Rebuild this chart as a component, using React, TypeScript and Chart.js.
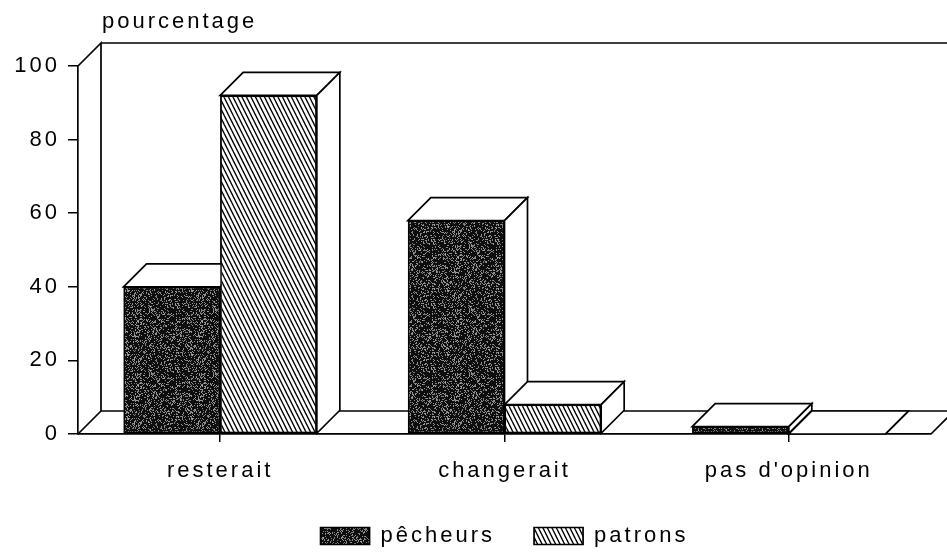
import React, { useEffect, useRef } from "react";
import { Chart, registerables } from "chart.js";
Chart.register(...registerables);

const categories = ["resterait", "changerait", "pas d'opinion"];
const seriesNames = ["pêcheurs", "patrons"];
const pecheurs = [40, 58, 2];
const patrons = [92, 8, 0];
const yTicks = [0, 20, 40, 60, 80, 100];
const yTitle = "pourcentage";

const FONT = "'Liberation Sans', Arial, Helvetica, sans-serif";
const FS = 22;
const LS = "3px";
const DX = 23;
const DY = -23;
const LW = 1.7;

function makeStipple(): CanvasPattern | string {
  const c = document.createElement("canvas");
  c.width = 64;
  c.height = 64;
  const g = c.getContext("2d");
  if (!g) return "#333";
  const img = g.createImageData(64, 64);
  let s = 987654321;
  for (let i = 0; i < 64 * 64; i++) {
    s = (s * 1103515245 + 12345) & 0x7fffffff;
    const r = (s >> 16) & 255;
    const v = r < 66 ? 120 + (r % 50) : 14;
    img.data[i * 4] = v;
    img.data[i * 4 + 1] = v;
    img.data[i * 4 + 2] = v;
    img.data[i * 4 + 3] = 255;
  }
  g.putImageData(img, 0, 0);
  return g.createPattern(c, "repeat") || "#333";
}

function makeHatch(): CanvasPattern | string {
  const c = document.createElement("canvas");
  c.width = 9;
  c.height = 18;
  const g = c.getContext("2d");
  if (!g) return "#999";
  g.fillStyle = "#fff";
  g.fillRect(0, 0, 9, 18);
  g.strokeStyle = "#000";
  g.lineWidth = 1.4;
  for (let k = -4; k <= 3; k++) {
    g.beginPath();
    g.moveTo(k * 4.5 - 1, -2);
    g.lineTo(k * 4.5 + 10, 20);
    g.stroke();
  }
  return g.createPattern(c, "repeat") || "#999";
}

const threeD = {
  id: "threeD",
  beforeUpdate(chart: any) {
    chart.ctx.letterSpacing = LS;
  },
  beforeLayout(chart: any) {
    chart.ctx.letterSpacing = LS;
  },
  beforeDraw(chart: any) {
    chart.ctx.letterSpacing = LS;
  },
  beforeDatasetsDraw(chart: any) {
    const { ctx, chartArea } = chart;
    const { left, right, top, bottom } = chartArea;
    ctx.save();
    ctx.lineWidth = LW;
    ctx.strokeStyle = "#000";
    ctx.lineJoin = "miter";
    ctx.beginPath();
    ctx.moveTo(left, top);
    ctx.lineTo(left + DX, top + DY);
    ctx.lineTo(left + DX, bottom + DY);
    ctx.lineTo(left, bottom);
    ctx.moveTo(left + DX, top + DY);
    ctx.lineTo(right + DX + 20, top + DY);
    ctx.moveTo(left + DX, bottom + DY);
    ctx.lineTo(right + DX, bottom + DY);
    ctx.lineTo(right, bottom);
    ctx.stroke();
    ctx.restore();
  },
  afterDatasetsDraw(chart: any) {
    const ctx = chart.ctx;
    const metas = chart.data.datasets.map((_: any, i: number) => chart.getDatasetMeta(i));
    ctx.save();
    for (let c = 0; c < categories.length; c++) {
      for (const meta of metas) {
        const el = meta.data[c];
        if (!el) continue;
        el.draw(ctx, chart.chartArea);
        const { x, y, base, width } = el.getProps(["x", "y", "base", "width"], true);
        const x1 = x - width / 2;
        const x2 = x + width / 2;
        ctx.save();
        ctx.lineWidth = LW;
        ctx.strokeStyle = "#000";
        ctx.fillStyle = "#fff";
        ctx.lineJoin = "miter";
        ctx.beginPath();
        ctx.moveTo(x1, y);
        ctx.lineTo(x1 + DX, y + DY);
        ctx.lineTo(x2 + DX, y + DY);
        ctx.lineTo(x2, y);
        ctx.closePath();
        ctx.fill();
        ctx.stroke();
        ctx.beginPath();
        ctx.moveTo(x2, y);
        ctx.lineTo(x2 + DX, y + DY);
        ctx.lineTo(x2 + DX, base + DY);
        ctx.lineTo(x2, base);
        ctx.closePath();
        ctx.fill();
        ctx.stroke();
        ctx.restore();
      }
    }
    ctx.restore();
  },
  afterDraw(chart: any) {
    const ctx = chart.ctx;
    const { left } = chart.chartArea;
    ctx.save();
    ctx.letterSpacing = LS;
    ctx.font = `${FS}px ${FONT}`;
    ctx.fillStyle = "#000";
    ctx.textAlign = "left";
    ctx.textBaseline = "alphabetic";
    ctx.fillText(yTitle, left + DX + 1, 28);
    ctx.restore();
  },
};

export default function App() {
  const ref = useRef<HTMLCanvasElement>(null);
  useEffect(() => {
    if (!ref.current) return;
    const stipple = makeStipple();
    const hatch = makeHatch();
    const chart = new Chart(ref.current, {
      type: "bar",
      data: {
        labels: categories,
        datasets: [
          {
            label: seriesNames[0],
            data: pecheurs,
            backgroundColor: stipple as any,
            borderColor: "#000",
            borderWidth: LW,
            borderSkipped: false,
            categoryPercentage: 0.68,
            barPercentage: 1,
          },
          {
            label: seriesNames[1],
            data: patrons,
            backgroundColor: hatch as any,
            borderColor: "#000",
            borderWidth: LW,
            borderSkipped: false,
            categoryPercentage: 0.68,
            barPercentage: 1,
          },
        ],
      },
      options: {
        responsive: false,
        animation: false,
        devicePixelRatio: 1,
        layout: { padding: { left: 8, right: 16, top: 66, bottom: 3 } },
        scales: {
          x: {
            offset: true,
            grid: {
              display: true,
              drawOnChartArea: false,
              drawTicks: true,
              tickLength: 8,
              color: "#000",
              lineWidth: 1.5,
              offset: false,
            },
            border: { display: true, color: "#000", width: LW },
            ticks: { color: "#000", font: { family: FONT, size: FS }, padding: 16, maxRotation: 0 },
            afterFit: (s: any) => {
              s.height = 52;
            },
          },
          y: {
            min: 0,
            max: 100,
            afterBuildTicks: (s: any) => {
              s.ticks = yTicks.map((v) => ({ value: v }));
            },
            grid: {
              display: true,
              drawOnChartArea: false,
              drawTicks: true,
              tickLength: 10,
              color: "#000",
              lineWidth: 1.5,
            },
            border: { display: true, color: "#000", width: LW },
            ticks: { color: "#000", font: { family: FONT, size: FS }, padding: 8 },
            afterFit: (s: any) => {
              s.width = 70;
            },
          },
        },
        plugins: {
          legend: {
            position: "bottom",
            fullSize: false,
            labels: {
              boxWidth: 49,
              boxHeight: 17,
              padding: 39,
              color: "#000",
              font: { family: FONT, size: FS },
              sort: (a: any, b: any) => a.datasetIndex - b.datasetIndex,
            },
          },
          tooltip: { enabled: false },
          title: { display: false },
        },
      },
      plugins: [threeD as any],
    });
    return () => chart.destroy();
  }, []);
  return (
    <div style={{ position: "absolute", left: 0, top: 0, width: 947, height: 560, background: "#fff" }}>
      <canvas ref={ref} width={947} height={560} style={{ display: "block" }} />
    </div>
  );
}
